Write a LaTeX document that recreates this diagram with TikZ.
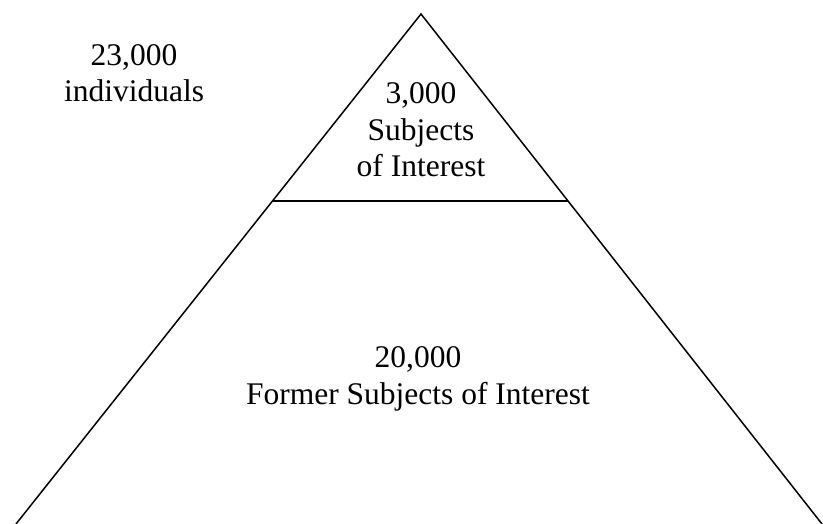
\documentclass[tikz,border=0pt]{standalone}
\usepackage{fontspec}
\setmainfont{Liberation Serif}
\usetikzlibrary{calc}

\begin{document}
\begin{tikzpicture}[
  x=1pt, y=-1pt,
  side line/.style={line width=1.5pt, line join=miter},
  divider line/.style={line width=1.5pt},
  every node/.style={align=center, inner sep=0pt, anchor=base,
    font=\fontsize{31.5}{36.5}\selectfont}
  ]
  \useasboundingbox (0,0) rectangle (823,524);
  \coordinate (apex) at (421,14);
  \coordinate (bl) at (16,524);
  \coordinate (br) at (822,524);
  \draw[side line] (bl) -- (apex) -- (br);
  % tier split
  \coordinate (sl) at ($(apex)!.3667!(bl)$);
  \coordinate (sr) at ($(apex)!.3667!(br)$);
  \draw[divider line] (sl) -- (sr);

  % base anchor = last line
  \node (total) at (134,102) {23,000\\individuals};
  \node (soi) at (421,177) {3,000\\Subjects\\of Interest};
  \node (former) at (418,404) {20,000\\Former Subjects of Interest};
\end{tikzpicture}
\end{document}
